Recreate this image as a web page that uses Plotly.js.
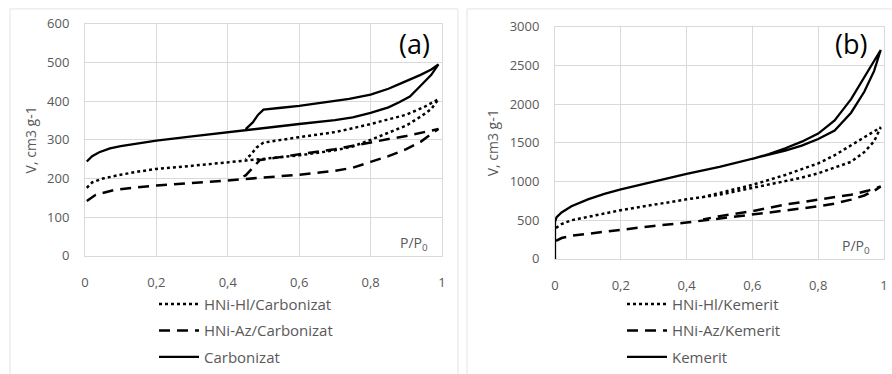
<!DOCTYPE html>
<html>
<head>
<meta charset="utf-8">
<script src="https://cdn.plot.ly/plotly-3.0.1.min.js"></script>
<style>html,body{margin:0;padding:0;background:#fff;}#chart{width:892px;height:374px;}</style>
</head>
<body>
<div id="chart"></div>
<script>
// ---------- Panel (a): Carbonizat series ----------
const hlCarbX = [0.005, 0.02, 0.05, 0.1, 0.15, 0.2, 0.3, 0.4, 0.45, 0.5, 0.6, 0.7, 0.75, 0.8, 0.85, 0.9, 0.94, 0.97, 0.99,
                 0.95, 0.9, 0.85, 0.8, 0.74, 0.7, 0.6, 0.52, 0.5, 0.48, 0.465, 0.45];
const hlCarbY = [176, 190, 200, 210, 218, 225, 233, 242, 246, 250, 260, 273, 283, 300, 318, 337, 360, 380, 405,
                 385, 365, 352, 341, 328, 320, 307, 297, 293, 280, 262, 250];

const azCarbX = [0.005, 0.03, 0.08, 0.14, 0.2, 0.3, 0.4, 0.45, 0.5, 0.6, 0.7, 0.75, 0.8, 0.85, 0.9, 0.94, 0.97, 0.99,
                 0.95, 0.9, 0.85, 0.8, 0.74, 0.7, 0.6, 0.52, 0.49, 0.47, 0.45, 0.43];
const azCarbY = [142, 158, 170, 177, 182, 188, 195, 199, 202, 210, 220, 228, 243, 258, 276, 295, 315, 328,
                 320, 310, 302, 294, 283, 276, 262, 252, 248, 228, 208, 200];

const carbX = [0.005, 0.02, 0.04, 0.07, 0.1, 0.14, 0.2, 0.3, 0.4, 0.45, 0.5, 0.6, 0.7, 0.75, 0.8, 0.85, 0.88, 0.91, 0.94, 0.97, 0.99,
               0.97, 0.94, 0.91, 0.88, 0.85, 0.8, 0.74, 0.68, 0.6, 0.55, 0.52, 0.5, 0.485, 0.47, 0.45];
const carbY = [244, 258, 268, 278, 284, 290, 298, 309, 320, 326, 331, 341, 351, 358, 370, 384, 397, 412, 440, 468, 495,
               482, 468, 455, 444, 432, 417, 406, 398, 388, 383, 381, 378, 365, 345, 328];

// ---------- Panel (b): Kemerit series ----------
const hlKemX = [0.003, 0.02, 0.05, 0.1, 0.2, 0.3, 0.4, 0.5, 0.6, 0.7, 0.75, 0.8, 0.85, 0.9, 0.94, 0.97, 0.99,
                0.95, 0.9, 0.85, 0.8, 0.75, 0.7, 0.6, 0.5, 0.45];
const hlKemY = [400, 450, 500, 545, 630, 700, 770, 830, 915, 1000, 1050, 1106, 1180, 1255, 1380, 1520, 1700,
                1600, 1468, 1340, 1234, 1160, 1085, 957, 851, 800];

const azKemX = [0.003, 0.02, 0.05, 0.1, 0.2, 0.3, 0.4, 0.5, 0.6, 0.7, 0.8, 0.85, 0.9, 0.94, 0.97, 0.99,
                0.95, 0.9, 0.8, 0.7, 0.6, 0.5, 0.45];
const azKemY = [234, 270, 300, 325, 383, 426, 470, 520, 570, 625, 681, 715, 766, 820, 880, 936,
                880, 830, 766, 702, 617, 553, 510];

const kemX = [0, 0, 0.005, 0.02, 0.05, 0.1, 0.15, 0.2, 0.3, 0.4, 0.5, 0.6, 0.7, 0.75, 0.8, 0.85, 0.9, 0.94, 0.97, 0.99,
              0.97, 0.95, 0.92, 0.9, 0.87, 0.85, 0.8, 0.75, 0.7, 0.65, 0.6];
const kemY = [0, 480, 540, 600, 680, 770, 840, 900, 1000, 1100, 1190, 1290, 1400, 1465, 1550, 1660, 1890, 2160, 2430, 2700,
              2560, 2404, 2200, 2064, 1900, 1790, 1620, 1515, 1430, 1355, 1292];

// ---------- Labels ----------
const xTickVals = [0, 0.2, 0.4, 0.6, 0.8, 1];
const xTickText = ['0', '0,2', '0,4', '0,6', '0,8', '1'];
const namesA = ['HNi-Hl/Carbonizat', 'HNi-Az/Carbonizat', 'Carbonizat'];
const namesB = ['HNi-Hl/Kemerit', 'HNi-Az/Kemerit', 'Kemerit'];
const yTitle = 'V, cm3 g-1';
const xNote = 'P/P<sub>0</sub>';

const W = 892, H = 374;
const px = v => v / W, py = v => 1 - v / H;
const gray = '#595959', grid = '#d9d9d9';
const FONT = 'Open Sans, Lato, sans-serif';

const dotStyle = {color: '#000', width: 2.5, dash: 'dot'};
const dashStyle = {color: '#000', width: 2.5, dash: '11px,7px'};
const solidStyle = {color: '#000', width: 2.3};

function tr(x, y, name, line, xa, ya, leg, grp) {
  return {x: x, y: y, name: name, mode: 'lines', line: line, xaxis: xa, yaxis: ya,
          legend: leg, legendgroup: grp, hoverinfo: 'skip'};
}

const data = [
  tr(hlCarbX, hlCarbY, namesA[0], dotStyle, 'x', 'y', 'legend', 'a1'),
  tr(azCarbX, azCarbY, namesA[1], dashStyle, 'x', 'y', 'legend', 'a2'),
  tr(carbX, carbY, namesA[2], solidStyle, 'x', 'y', 'legend', 'a3'),
  tr(hlKemX, hlKemY, namesB[0], dotStyle, 'x2', 'y2', 'legend2', 'b1'),
  tr(azKemX, azKemY, namesB[1], dashStyle, 'x2', 'y2', 'legend2', 'b2'),
  tr(kemX, kemY, namesB[2], solidStyle, 'x2', 'y2', 'legend2', 'b3')
];

function xax(dom) {
  return {domain: dom, range: [0, 1], tickvals: xTickVals, ticktext: xTickText,
          showgrid: true, gridcolor: grid, gridwidth: 1, zeroline: false,
          showline: true, linecolor: grid, linewidth: 1, mirror: true,
          ticks: 'outside', ticklen: 14, tickcolor: 'rgba(0,0,0,0)',
          tickfont: {family: FONT, size: 13, color: gray}, automargin: false, fixedrange: true};
}
function yax(dom, rng, dt, anchor) {
  return {domain: dom, range: rng, dtick: dt, anchor: anchor,
          showgrid: true, gridcolor: grid, gridwidth: 1, zeroline: false,
          showline: true, linecolor: grid, linewidth: 1, mirror: true,
          ticks: 'outside', ticklen: 12, tickcolor: 'rgba(0,0,0,0)',
          tickfont: {family: FONT, size: 13, color: gray}, automargin: false, fixedrange: true,
          title: {text: yTitle, font: {family: FONT, size: 14, color: gray}, standoff: 7}};
}

function legendCfg(x) {
  return {x: px(x), xanchor: 'left', y: py(290), yanchor: 'top', bgcolor: 'rgba(0,0,0,0)',
          font: {family: FONT, size: 15, color: gray}, traceorder: 'grouped', tracegroupgap: 4,
          itemwidth: 40, borderwidth: 0};
}

const layout = {
  width: W, height: H, margin: {l: 0, r: 0, t: 0, b: 0},
  paper_bgcolor: '#fff', plot_bgcolor: '#fff', showlegend: true,
  xaxis: Object.assign(xax([px(85), px(442)]), {anchor: 'y'}),
  yaxis: yax([py(258), py(24)], [0, 600], 100, 'x'),
  xaxis2: Object.assign(xax([px(555), px(884)]), {anchor: 'y2'}),
  yaxis2: yax([py(261), py(27)], [0, 3000], 500, 'x2'),
  legend: legendCfg(154),
  legend2: legendCfg(622),
  shapes: [
    {type: 'rect', xref: 'paper', yref: 'paper', x0: px(10), x1: px(458), y0: -0.05, y1: py(9),
     line: {color: '#e3e3e3', width: 1}, layer: 'below'},
    {type: 'rect', xref: 'paper', yref: 'paper', x0: px(467), x1: 1.05, y0: -0.05, y1: py(9),
     line: {color: '#e3e3e3', width: 1}, layer: 'below'}
  ],
  annotations: [
    {text: xNote, xref: 'x domain', yref: 'y domain', x: 0.965, y: 0.0, xanchor: 'right', yanchor: 'bottom',
     showarrow: false, font: {family: FONT, size: 14, color: gray}},
    {text: xNote, xref: 'x2 domain', yref: 'y2 domain', x: 0.965, y: 0.0, xanchor: 'right', yanchor: 'bottom',
     showarrow: false, font: {family: FONT, size: 14, color: gray}},
    {text: '(a)', xref: 'paper', yref: 'paper', x: px(414), y: py(44), xanchor: 'center', yanchor: 'middle',
     showarrow: false, font: {family: FONT, size: 27, color: '#000'}},
    {text: '(b)', xref: 'paper', yref: 'paper', x: px(851), y: py(44), xanchor: 'center', yanchor: 'middle',
     showarrow: false, font: {family: FONT, size: 27, color: '#000'}}
  ]
};

Plotly.newPlot('chart', data, layout, {displayModeBar: false, staticPlot: true});
</script>
</body>
</html>
